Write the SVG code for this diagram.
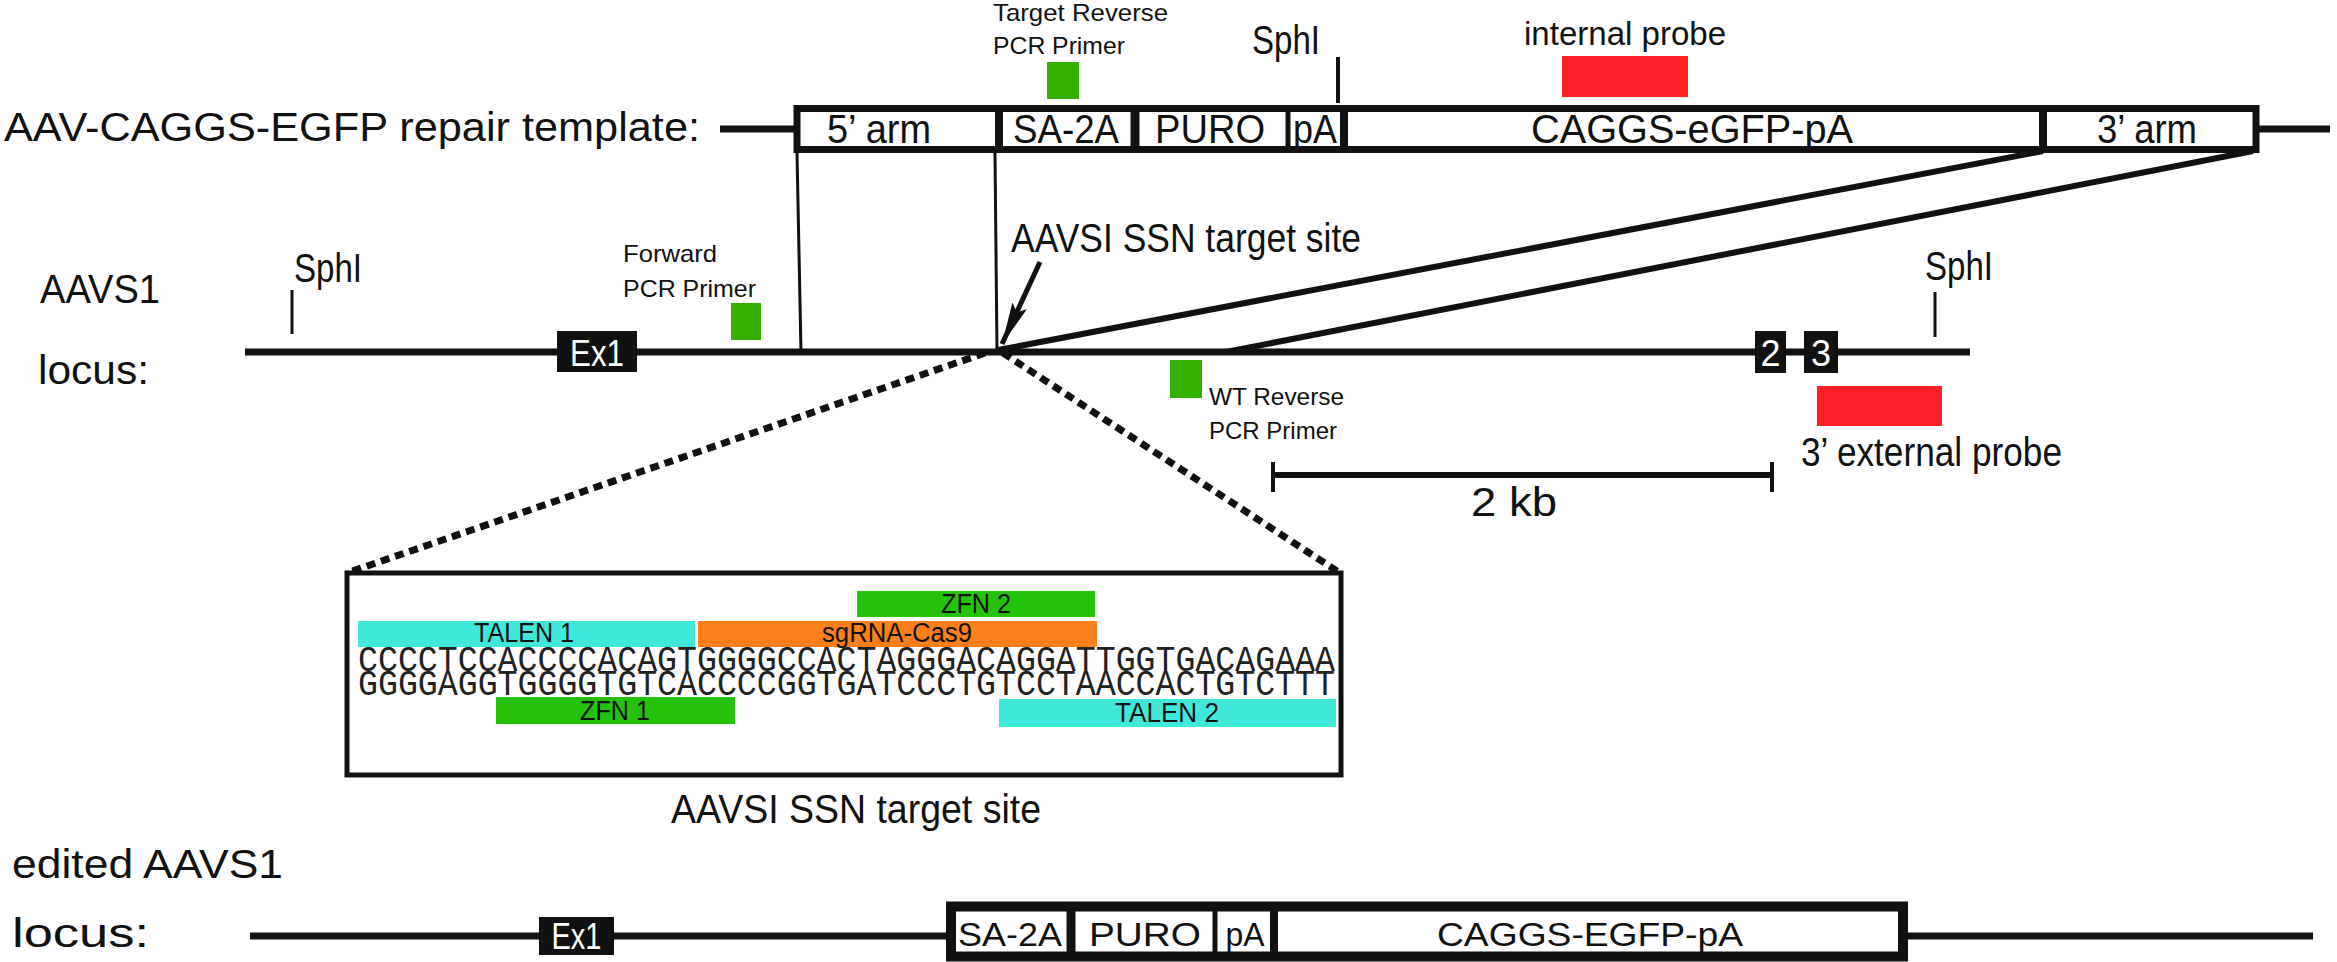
<svg xmlns="http://www.w3.org/2000/svg" width="2337" height="962" viewBox="0 0 2337 962">
<style>
text{font-family:"Liberation Sans",Arial,sans-serif;fill:#111;}
.lab{font-size:40px;}
.sm{font-size:24px;}
.wt{fill:#fff;font-size:36px;}
.bar{font-size:27px;}
.seq{font-family:"Liberation Mono","Courier New",monospace;font-size:37px;fill:#222;}
.thick{stroke:#111;stroke-width:7;fill:none;}
.thin{stroke:#111;stroke-width:3;fill:none;}
.box{fill:#fff;stroke:#111;stroke-width:7;}
.exon{fill:#111;}
.primer{fill:#33b000;}
.probe{fill:#ff1f24;}
.dash{stroke:#111;stroke-width:7;stroke-dasharray:9 6;fill:none;}
</style>
<defs>
<marker id="ah" markerUnits="userSpaceOnUse" markerWidth="46" markerHeight="16" refX="42" refY="8" orient="auto">
<path d="M0,0 L42,8 L0,16 L7,8 z" fill="#111"/>
</marker>
</defs>

<g id="template">
<text class="lab" x="4" y="141" textLength="696" lengthAdjust="spacingAndGlyphs">AAV-CAGGS-EGFP repair template:</text>
<line class="thick" x1="720" y1="129" x2="797" y2="129"/>
<line class="thick" x1="2259" y1="129" x2="2330" y2="129"/>
<rect class="box" x="797" y="108.5" width="1459" height="41"/>
<line x1="999" y1="105" x2="999" y2="153" stroke="#111" stroke-width="8"/>
<line x1="1135" y1="105" x2="1135" y2="153" stroke="#111" stroke-width="9"/>
<line x1="1288" y1="105" x2="1288" y2="153" stroke="#111" stroke-width="5"/>
<line x1="1344" y1="105" x2="1344" y2="153" stroke="#111" stroke-width="8"/>
<line x1="2043" y1="105" x2="2043" y2="153" stroke="#111" stroke-width="8"/>
<text class="lab" x="879" y="143" text-anchor="middle" textLength="104" lengthAdjust="spacingAndGlyphs">5’ arm</text>
<text class="lab" x="1066" y="143" text-anchor="middle" textLength="106" lengthAdjust="spacingAndGlyphs">SA-2A</text>
<text class="lab" x="1210" y="143" text-anchor="middle" textLength="110" lengthAdjust="spacingAndGlyphs">PURO</text>
<text class="lab" x="1315" y="143" text-anchor="middle" textLength="44" lengthAdjust="spacingAndGlyphs">pA</text>
<text class="lab" x="1692" y="143" text-anchor="middle" textLength="322" lengthAdjust="spacingAndGlyphs">CAGGS-eGFP-pA</text>
<text class="lab" x="2147" y="143" text-anchor="middle" textLength="100" lengthAdjust="spacingAndGlyphs">3’ arm</text>
</g>

<g id="template-primer">
<text class="sm" x="993" y="21" textLength="175" lengthAdjust="spacingAndGlyphs">Target Reverse</text>
<text class="sm" x="993" y="54" textLength="132" lengthAdjust="spacingAndGlyphs">PCR Primer</text>
<rect class="primer" x="1047" y="62" width="32" height="37"/>
</g>

<g id="template-sphi">
<text class="lab" x="1252" y="54" textLength="68" lengthAdjust="spacingAndGlyphs">SphI</text>
<line x1="1338" y1="57" x2="1338" y2="103" stroke="#111" stroke-width="4"/>
</g>

<g id="internal-probe">
<text x="1524" y="45" font-size="34" textLength="202" lengthAdjust="spacingAndGlyphs">internal probe</text>
<rect class="probe" x="1562" y="56" width="126" height="41"/>
</g>

<g id="connectors">
<line class="thin" x1="797" y1="153" x2="801" y2="352"/>
<line class="thin" x1="995" y1="153" x2="997" y2="352"/>
<line x1="998" y1="350" x2="2043" y2="151" stroke="#111" stroke-width="6"/>
<line x1="1226" y1="352" x2="2253" y2="151" stroke="#111" stroke-width="6"/>
<line x1="1040" y1="262" x2="1002" y2="344" stroke="#111" stroke-width="5" marker-end="url(#ah)"/>
<line class="dash" x1="985" y1="353" x2="347" y2="573"/>
<line class="dash" x1="1003" y1="353" x2="1340" y2="573"/>
</g>

<g id="aavs1-locus">
<text class="lab" x="40" y="303" textLength="120" lengthAdjust="spacingAndGlyphs">AAVS1</text>
<text class="lab" x="38" y="384" textLength="111" lengthAdjust="spacingAndGlyphs">locus:</text>
<line class="thick" x1="245" y1="352" x2="1970" y2="352"/>
<rect class="exon" x="557" y="331" width="80" height="41"/>
<text class="wt" x="597" y="366" text-anchor="middle" textLength="54" lengthAdjust="spacingAndGlyphs">Ex1</text>
<rect class="exon" x="1755" y="331" width="31" height="42"/>
<text class="wt" x="1770.5" y="366" text-anchor="middle">2</text>
<rect class="exon" x="1804" y="331" width="34" height="42"/>
<text class="wt" x="1821" y="366" text-anchor="middle">3</text>
</g>

<g id="locus-sphi-left">
<text class="lab" x="294" y="282" textLength="68" lengthAdjust="spacingAndGlyphs">SphI</text>
<line x1="292" y1="290" x2="292" y2="334" stroke="#111" stroke-width="3"/>
</g>

<g id="forward-primer">
<text class="sm" x="623" y="262" textLength="94" lengthAdjust="spacingAndGlyphs">Forward</text>
<text class="sm" x="623" y="297" textLength="133" lengthAdjust="spacingAndGlyphs">PCR Primer</text>
<rect class="primer" x="731" y="303" width="30" height="37"/>
</g>

<g id="ssn-label">
<text class="lab" x="1011" y="252" textLength="350" lengthAdjust="spacingAndGlyphs">AAVSI SSN target site</text>
</g>

<g id="locus-sphi-right">
<text class="lab" x="1925" y="280" textLength="68" lengthAdjust="spacingAndGlyphs">SphI</text>
<line x1="1935" y1="292" x2="1935" y2="337" stroke="#111" stroke-width="3"/>
</g>

<g id="wt-primer">
<rect class="primer" x="1170" y="360" width="32" height="38"/>
<text class="sm" x="1209" y="405" textLength="135" lengthAdjust="spacingAndGlyphs">WT Reverse</text>
<text class="sm" x="1209" y="439" textLength="128" lengthAdjust="spacingAndGlyphs">PCR Primer</text>
</g>

<g id="external-probe">
<rect class="probe" x="1817" y="386" width="125" height="40"/>
<text class="lab" x="1801" y="466" textLength="261" lengthAdjust="spacingAndGlyphs">3’ external probe</text>
</g>

<g id="scale-bar">
<line x1="1271" y1="475" x2="1774" y2="475" stroke="#111" stroke-width="6"/>
<line x1="1273" y1="462" x2="1273" y2="492" stroke="#111" stroke-width="4"/>
<line x1="1772" y1="462" x2="1772" y2="492" stroke="#111" stroke-width="4"/>
<text x="1514" y="516" font-size="40" text-anchor="middle" textLength="86" lengthAdjust="spacingAndGlyphs">2 kb</text>
</g>

<g id="target-site">
<rect x="347" y="573" width="994" height="202" fill="#fff" stroke="#111" stroke-width="5"/>
<rect x="857" y="591" width="238" height="26" fill="#25c20a"/>
<text class="bar" x="976" y="613" text-anchor="middle" textLength="70" lengthAdjust="spacingAndGlyphs">ZFN 2</text>
<rect x="358" y="621" width="337" height="26" fill="#40e8dc"/>
<text class="bar" x="524" y="642" text-anchor="middle" textLength="100" lengthAdjust="spacingAndGlyphs">TALEN 1</text>
<rect x="698" y="621" width="399" height="26" fill="#ff801a"/>
<text class="bar" x="897" y="642" text-anchor="middle" textLength="150" lengthAdjust="spacingAndGlyphs">sgRNA-Cas9</text>
<text class="seq" x="358" y="671" textLength="977" lengthAdjust="spacingAndGlyphs">CCCCTCCACCCCACAGTGGGGCCACTAGGGACAGGATTGGTGACAGAAA</text>
<text class="seq" x="358" y="695" textLength="977" lengthAdjust="spacingAndGlyphs">GGGGAGGTGGGGTGTCACCCCGGTGATCCCTGTCCTAACCACTGTCTTT</text>
<rect x="496" y="697" width="239" height="27" fill="#25c20a"/>
<text class="bar" x="615" y="720" text-anchor="middle" textLength="70" lengthAdjust="spacingAndGlyphs">ZFN 1</text>
<rect x="999" y="699" width="337" height="28" fill="#40e8dc"/>
<text class="bar" x="1167" y="722" text-anchor="middle" textLength="104" lengthAdjust="spacingAndGlyphs">TALEN 2</text>
<text class="lab" x="856" y="823" text-anchor="middle" textLength="370" lengthAdjust="spacingAndGlyphs">AAVSI SSN target site</text>
</g>

<g id="edited-locus">
<text class="lab" x="12" y="878" textLength="271" lengthAdjust="spacingAndGlyphs">edited AAVS1</text>
<text class="lab" x="12" y="947" textLength="137" lengthAdjust="spacingAndGlyphs">locus:</text>
<line class="thick" x1="250" y1="936" x2="946" y2="936"/>
<line class="thick" x1="1908" y1="936" x2="2313" y2="936"/>
<rect class="exon" x="539" y="917" width="75" height="38"/>
<text class="wt" x="576.5" y="949" text-anchor="middle" font-size="33" textLength="50" lengthAdjust="spacingAndGlyphs">Ex1</text>
<rect x="951" y="906.5" width="952" height="50" fill="#fff" stroke="#111" stroke-width="10"/>
<line x1="1071" y1="902" x2="1071" y2="961" stroke="#111" stroke-width="9"/>
<line x1="1215" y1="902" x2="1215" y2="961" stroke="#111" stroke-width="5"/>
<line x1="1274" y1="902" x2="1274" y2="961" stroke="#111" stroke-width="8"/>
<text x="1010" y="946" font-size="34" text-anchor="middle" textLength="104" lengthAdjust="spacingAndGlyphs">SA-2A</text>
<text x="1145" y="946" font-size="34" text-anchor="middle" textLength="112" lengthAdjust="spacingAndGlyphs">PURO</text>
<text x="1245" y="946" font-size="34" text-anchor="middle" textLength="39" lengthAdjust="spacingAndGlyphs">pA</text>
<text x="1590" y="946" font-size="34" text-anchor="middle" textLength="306" lengthAdjust="spacingAndGlyphs">CAGGS-EGFP-pA</text>
</g>
</svg>
